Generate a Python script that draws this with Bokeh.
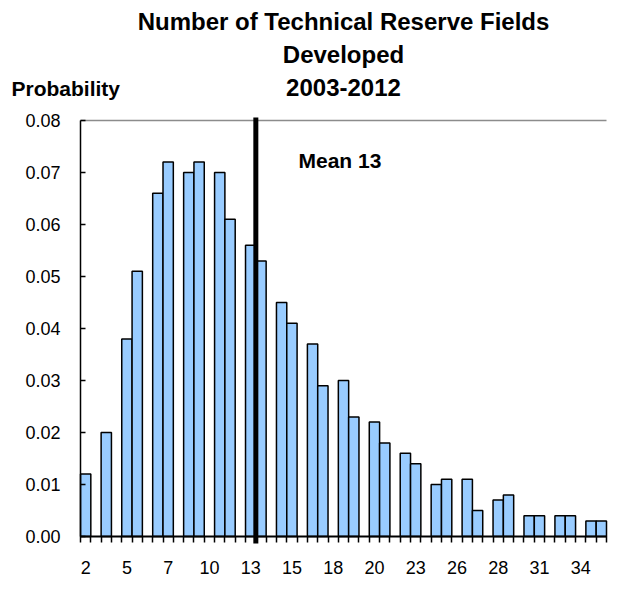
from bokeh.plotting import figure
from bokeh.models import Range1d, FixedTicker, Label, ColumnDataSource
from bokeh.embed import file_html
from bokeh.resources import INLINE

# ---- data ----
tick_labels = ["2", "5", "7", "10", "13", "15", "18", "20", "23", "26", "28", "31", "34"]
probability = [
    0.012, 0.000, 0.020, 0.000, 0.038, 0.051, 0.000, 0.066, 0.072, 0.000,
    0.070, 0.072, 0.000, 0.070, 0.061, 0.000, 0.056, 0.053, 0.000, 0.045,
    0.041, 0.000, 0.037, 0.029, 0.000, 0.030, 0.023, 0.000, 0.022, 0.018,
    0.000, 0.016, 0.014, 0.000, 0.010, 0.011, 0.000, 0.011, 0.005, 0.000,
    0.007, 0.008, 0.000, 0.004, 0.004, 0.000, 0.004, 0.004, 0.000, 0.003,
    0.003,
]
bin_start = 2.0
bin_width = 2.0 / 3.0
mean_value = 13
title_lines = ["Number of Technical Reserve Fields", "Developed", "2003-2012"]
y_label = "Probability"

FONT = "Liberation Sans"
n = len(probability)
slot = list(range(n))
label_step = 4

# ---- geometry (canvas px) ----
W, H = 608, 584
PL, PR, PT, PB = 80, 2, 120, 48      # plot-area edges inside the canvas
FW, FH = W - PL - PR, H - PT - PB
YMAX = 0.08
px_per_y = FH / YMAX
px_per_x = FW / n

x0, x1 = -0.5, n - 0.5
p = figure(
    width=W, height=H,
    min_border=0, min_border_left=0, min_border_right=0, min_border_top=0, min_border_bottom=0,
    x_range=Range1d(x0 - PL / px_per_x, x1 + PR / px_per_x),
    y_range=Range1d(-PB / px_per_y, YMAX + PT / px_per_y),
    output_backend="svg", toolbar_location=None, tools="",
    outline_line_color=None, background_fill_color="white", border_fill_color="white",
)
p.xgrid.visible = False
p.ygrid.visible = False

xs = [s for s, v in zip(slot, probability) if v > 0]
ys = [v for v in probability if v > 0]
src = ColumnDataSource(dict(x=xs, top=ys))
p.vbar(x="x", top="top", bottom=0, width=1.0, source=src,
       fill_color="#99CCFF", line_color="black", line_width=1.5)

# top border line of the plot area
p.segment(x0=[x0], y0=[YMAX], x1=[x1], y1=[YMAX], line_color="#8C8C8C", line_width=1.5)

# mean line
mean_pos = (mean_value - bin_start) / bin_width
p.segment(x0=[mean_pos], x1=[mean_pos], y0=[-7 / px_per_y], y1=[YMAX + 3 / px_per_y],
          line_color="black", line_width=5)

# x axis
major = list(range(0, n, label_step))
xa = p.xaxis[0]
xa.fixed_location = 0
xa.bounds = (x0, x1)
xa.ticker = FixedTicker(ticks=major, minor_ticks=[s - 0.5 for s in range(n + 1)])
xa.major_label_overrides = {t: lab for t, lab in zip(major, tick_labels)}
xa.major_tick_in = 0
xa.major_tick_out = 0
xa.minor_tick_in = 0
xa.minor_tick_out = 6
xa.minor_tick_line_color = "black"
xa.minor_tick_line_width = 1.5
xa.axis_line_color = "black"
xa.axis_line_width = 2
xa.major_label_standoff = 18
xa.major_label_text_font = FONT
xa.major_label_text_font_size = "18px"
xa.major_label_text_color = "black"

# y axis
ya = p.yaxis[0]
ya.fixed_location = x0
ya.bounds = (0, YMAX)
ya.ticker = FixedTicker(ticks=[i / 100 for i in range(9)])
ya.major_label_overrides = {i / 100: f"{i / 100:.2f}" for i in range(9)}
ya.major_tick_in = 5
ya.major_tick_out = 0
ya.minor_tick_in = 0
ya.minor_tick_out = 0
ya.major_tick_line_color = "black"
ya.major_tick_line_width = 1.5
ya.axis_line_color = "black"
ya.axis_line_width = 1.5
ya.major_label_standoff = 20
ya.major_label_text_font = FONT
ya.major_label_text_font_size = "18px"
ya.major_label_text_color = "black"

def to_y(canvas_y):
    return YMAX + (PT - canvas_y) / px_per_y

def to_x(canvas_x):
    return x0 + (canvas_x - PL) / px_per_x

# titles
center_x = (x0 + x1) / 2
for txt, cy in zip(title_lines, [21, 54, 87]):
    p.add_layout(Label(x=center_x, y=to_y(cy), text=txt,
                       text_align="center", text_baseline="middle",
                       text_font=FONT, text_font_style="bold", text_font_size="24px",
                       text_color="black"))

p.add_layout(Label(x=to_x(11), y=to_y(88), text=y_label,
                   text_align="left", text_baseline="middle",
                   text_font=FONT, text_font_style="bold", text_font_size="21px",
                   text_color="black"))

p.add_layout(Label(x=to_x(298), y=to_y(160), text=f"Mean {mean_value}",
                   text_align="left", text_baseline="middle",
                   text_font=FONT, text_font_style="bold", text_font_size="21px",
                   text_color="black"))

open("out.html", "w").write(file_html(p, INLINE))
